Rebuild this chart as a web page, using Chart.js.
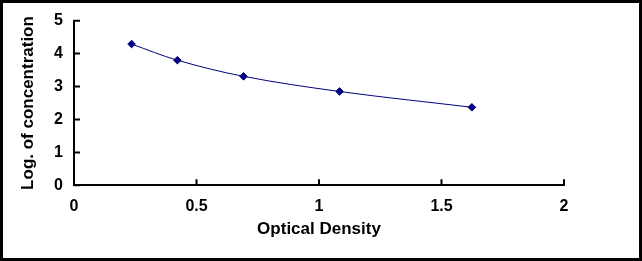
<!DOCTYPE html>
<html>
<head>
<meta charset="utf-8">
<script src="https://cdn.jsdelivr.net/npm/chart.js@4"></script>
<style>
  html, body { margin: 0; padding: 0; background: #fff; }
  #wrap { width: 642px; height: 261px; position: relative; }
</style>
</head>
<body>
<div id="wrap"><canvas id="stdChart" width="642" height="261"></canvas></div>
<script>
    // standard curve points
    const opticalDensity = [0.235, 0.422, 0.692, 1.084, 1.624];
    const logConcentration = [4.29, 3.80, 3.31, 2.85, 2.37];
    const xTickValues = [0, 0.5, 1, 1.5, 2];
    const yTickValues = [0, 1, 2, 3, 4, 5];

    const navy = "#000080";
    const fontFamily = "'Liberation Sans', Arial, sans-serif";

    // frame round the picture + inside tick marks
    const decor = {
      id: "decor",
      beforeDraw(chart) {
        const c = chart.ctx;
        c.save();
        c.fillStyle = "#fff";
        c.fillRect(0, 0, chart.width, chart.height);
        c.restore();
      },
      afterDraw(chart) {
        const c = chart.ctx;
        const xs = chart.scales.x;
        const ys = chart.scales.y;
        const area = chart.chartArea;
        c.save();
        c.strokeStyle = "#000";
        c.lineWidth = 2;
        c.beginPath();
        xTickValues.forEach(v => {
          const px = xs.getPixelForValue(v);
          c.moveTo(px, area.bottom);
          c.lineTo(px, area.bottom - 6);
        });
        yTickValues.forEach(v => {
          const py = ys.getPixelForValue(v);
          c.moveTo(area.left, py);
          c.lineTo(area.left + 6, py);
        });
        c.stroke();
        c.lineWidth = 3;
        c.strokeRect(1.5, 1.5, chart.width - 3, chart.height - 3);
        c.restore();
      }
    };

    const ctx = document.getElementById("stdChart");
    const stdChart = new Chart(ctx, {
      type: "scatter",
      data: {
        datasets: [{
          data: opticalDensity.map((x, i) => ({ x: x, y: logConcentration[i] })),
          showLine: true,
          borderColor: navy,
          borderWidth: 1,
          tension: 0.35,
          pointStyle: "rectRot",
          pointRadius: 3.8,
          pointBackgroundColor: navy,
          pointBorderColor: navy,
          pointBorderWidth: 1
        }]
      },
      options: {
        responsive: false,
        animation: false,
        events: [],
        layout: { padding: { left: 14, right: 78, top: 20.7, bottom: 15 } },
        plugins: {
          legend: { display: false },
          tooltip: { enabled: false }
        },
        scales: {
          x: {
            type: "linear",
            min: 0,
            max: 2,
            afterBuildTicks: s => { s.ticks = xTickValues.map(v => ({ value: v })); },
            afterFit: s => { s.height = 246 - 185.3; },
            grid: { display: false, drawTicks: false },
            border: { display: true, color: "#000", width: 2 },
            ticks: {
              color: "#000",
              padding: 12,
              maxRotation: 0,
              font: { family: fontFamily, size: 16, weight: "bold" },
              callback: v => String(v)
            },
            title: {
              display: true,
              text: "Optical Density",
              color: "#000",
              padding: { top: 0, bottom: 6 },
              font: { family: fontFamily, size: 17, weight: "bold" }
            }
          },
          y: {
            type: "linear",
            min: 0,
            max: 5,
            afterBuildTicks: s => { s.ticks = yTickValues.map(v => ({ value: v })); },
            afterFit: s => { s.width = 74 - 14; },
            grid: { display: false, drawTicks: false },
            border: { display: true, color: "#000", width: 2 },
            ticks: {
              color: "#000",
              padding: 11,
              font: { family: fontFamily, size: 16, weight: "bold" },
              callback: v => String(v)
            },
            title: {
              display: true,
              text: "Log. of concentration",
              color: "#000",
              padding: { top: 4, bottom: 0 },
              font: { family: fontFamily, size: 17, weight: "bold" }
            }
          }
        }
      },
      plugins: [decor]
    });
</script>
</body>
</html>
